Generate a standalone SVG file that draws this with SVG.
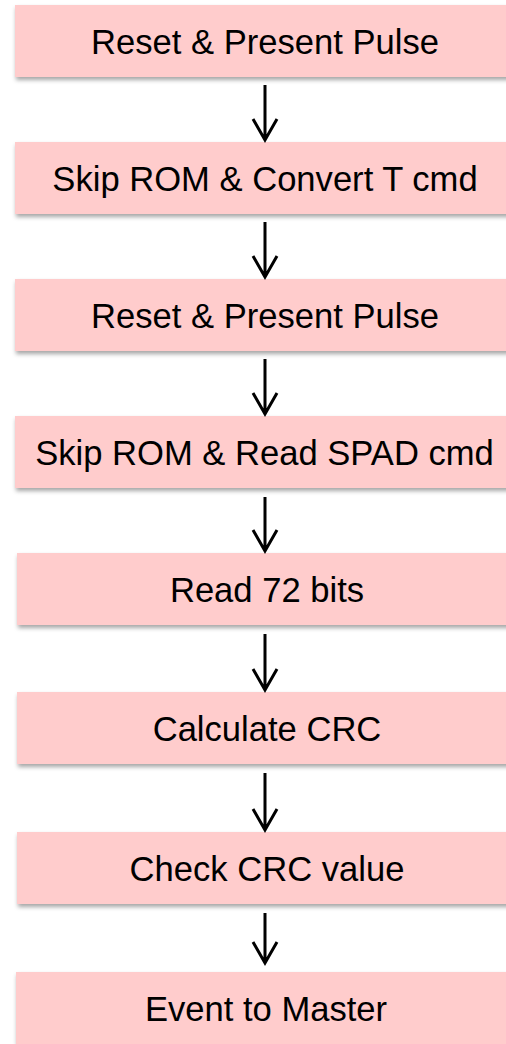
<svg xmlns="http://www.w3.org/2000/svg" width="506" height="1044" viewBox="0 0 506 1044">
  <defs>
    <filter id="shadow" x="-10%" y="-20%" width="120%" height="150%">
      <feDropShadow dx="1" dy="3" stdDeviation="2" flood-color="#000" flood-opacity="0.35"/>
    </filter>
  </defs>
  <style>
    .box { fill: #ffcccc; filter: url(#shadow); }
    .label { font-family: "Liberation Sans", Arial, sans-serif; font-size: 34.6px; fill: #000; text-anchor: middle; }
    .conn { stroke: #000; stroke-width: 3; fill: none; }
  </style>
  <rect width="506" height="1044" fill="#fff"/>

  <!-- flow steps -->
  <g id="step1"><rect class="box" x="15" y="5" width="500" height="72"/><text class="label" x="265" y="54">Reset &amp; Present Pulse</text></g>
  <g id="step2"><rect class="box" x="15" y="142" width="500" height="72"/><text class="label" x="265" y="191">Skip ROM &amp; Convert T cmd</text></g>
  <g id="step3"><rect class="box" x="15" y="279" width="500" height="72"/><text class="label" x="265" y="328">Reset &amp; Present Pulse</text></g>
  <g id="step4"><rect class="box" x="15" y="416" width="500" height="72"/><text class="label" x="264.5" y="465">Skip ROM &amp; Read SPAD cmd</text></g>
  <g id="step5"><rect class="box" x="17" y="553" width="500" height="72"/><text class="label" x="267" y="602">Read 72 bits</text></g>
  <g id="step6"><rect class="box" x="17" y="692" width="500" height="72"/><text class="label" x="267" y="741">Calculate CRC</text></g>
  <g id="step7"><rect class="box" x="17" y="832" width="500" height="72"/><text class="label" x="267" y="881">Check CRC value</text></g>
  <g id="step8"><rect class="box" x="16" y="972" width="500" height="72"/><text class="label" x="266" y="1021">Event to Master</text></g>

  <!-- connectors -->
  <g id="connectors">
    <path class="conn" d="M265 85V140M253 119L265 140L277 119"/>
    <path class="conn" d="M265 222V277M253 256L265 277L277 256"/>
    <path class="conn" d="M265 359V414M253 393L265 414L277 393"/>
    <path class="conn" d="M265 497V551M253 530L265 551L277 530"/>
    <path class="conn" d="M265 634V690M253 669L265 690L277 669"/>
    <path class="conn" d="M265 773V830M253 809L265 830L277 809"/>
    <path class="conn" d="M265 913V963M253 942L265 963L277 942"/>
  </g>
</svg>
